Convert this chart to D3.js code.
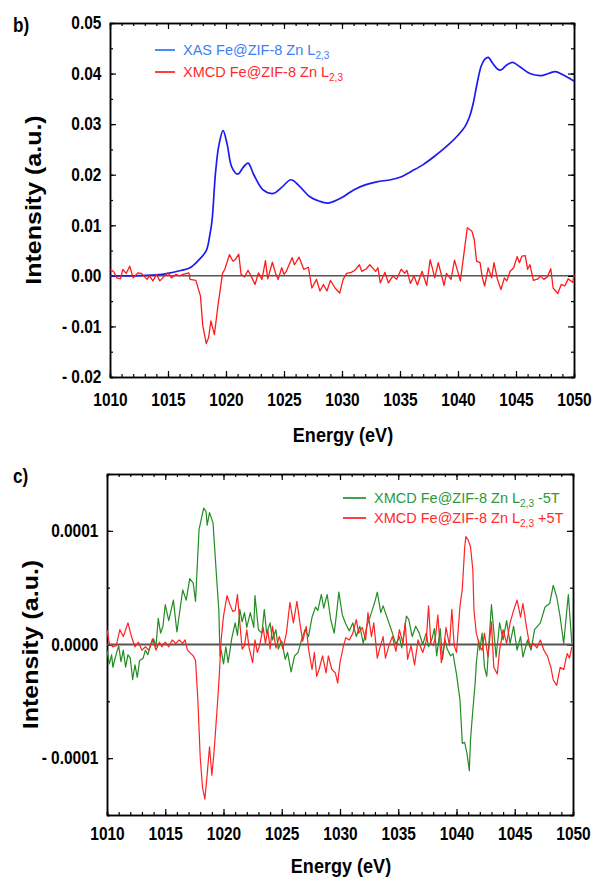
<!DOCTYPE html>
<html>
<head>
<meta charset="utf-8">
<style>
  body { margin: 0; background: #fff; }
  text { font-family: "Liberation Sans", Arial, sans-serif; }
</style>
</head>
<body>
<script src="https://cdn.jsdelivr.net/npm/d3@7"></script>
<script>
// ---- data: [energy eV, intensity] ----
const xasB = [[1010,0],[1012,0],[1014,0.0002],[1015,0.0005],[1016,0.001],[1016.9,0.0016],[1017.6,0.003],
  [1018.3,0.005],[1018.6,0.008],[1018.8,0.011],[1019.1,0.0205],[1019.4,0.026],[1019.75,0.0287],[1020.1,0.026],
  [1020.5,0.0215],[1021.0,0.0201],[1021.5,0.0215],[1021.9,0.0223],[1022.4,0.020],[1023.2,0.017],[1024.1,0.0163],
  [1024.8,0.0175],[1025.6,0.019],[1026.3,0.0178],[1027.2,0.0157],[1028.0,0.0148],[1028.8,0.0144],[1030.0,0.0155],
  [1031.0,0.017],[1032.0,0.018],[1033.0,0.0186],[1034.2,0.019],[1035.0,0.0195],[1036.0,0.0207],[1037.0,0.022],
  [1038.0,0.0237],[1039.3,0.0262],[1040.0,0.0278],[1040.6,0.0295],[1041.0,0.0315],[1041.3,0.034],[1041.6,0.0375],
  [1042.0,0.0415],[1042.3,0.0428],[1042.6,0.0432],[1043.0,0.042],[1043.4,0.0409],[1043.7,0.0407],[1044.2,0.0417],
  [1044.7,0.0422],[1045.3,0.0414],[1046.2,0.040],[1047.2,0.0396],[1047.9,0.0401],[1048.4,0.0404],[1049.0,0.0398],
  [1050.0,0.0385]];

const xmcdB = [[1010,0.00125],[1010.3,0.0009],[1010.6,-0.0004],[1010.9,-0.0006],[1011.1,0.00125],[1011.4,0.0005],
  [1011.7,0.0019],[1012.0,-0.0004],[1012.4,0.0006],[1012.7,0.0005],[1013.2,-0.0007],[1013.4,0],[1013.7,-0.001],
  [1014.0,0.0003],[1014.3,-0.001],[1014.7,0],[1015.0,0.0006],[1015.3,-0.0004],[1015.7,0.0003],[1016.0,0],
  [1016.3,0.0003],[1016.8,0.0006],[1016.9,-0.0007],[1017.4,-0.0009],[1017.8,-0.004],[1018.0,-0.0099],
  [1018.3,-0.0134],[1018.5,-0.0122],[1018.7,-0.0089],[1019.0,-0.0116],[1019.3,-0.006],[1019.7,0.0005],
  [1019.9,0.0013],[1020.3,0.0042],[1020.6,0.0029],[1020.8,0.0032],[1021.1,0.0043],[1021.3,0.0003],[1021.6,-0.0002],
  [1021.9,0.0011],[1022.2,-0.0002],[1022.5,-0.0017],[1022.8,0.0006],[1023.1,-0.0007],[1023.4,0.003],[1023.6,-0.0006],
  [1024.0,0.0027],[1024.3,0.0003],[1024.5,-0.0007],[1024.8,0.0016],[1025.0,0.0003],[1025.2,0.0009],[1025.7,0.0036],
  [1025.9,0.0022],[1026.3,0.0037],[1026.7,0.0013],[1027.1,0.0017],[1027.4,-0.0024],[1027.8,-0.0007],[1028.1,-0.003],
  [1028.4,-0.0017],[1028.7,-0.003],[1029.0,-0.0009],[1029.4,-0.0024],[1029.8,-0.0034],[1030.1,-0.0007],
  [1030.4,0.0005],[1030.8,0.0007],[1031.1,0.0011],[1031.5,0.0022],[1031.7,0.0009],[1032.1,0.0014],[1032.4,0.0022],
  [1032.9,0.0009],[1033.1,0.0016],[1033.3,-0.0014],[1033.7,0.0007],[1034.0,-0.0014],[1034.4,0],[1034.7,-0.0007],
  [1035.1,0.0013],[1035.4,0.0005],[1035.6,0.0011],[1035.9,-0.0015],[1036.2,0],[1036.5,-0.0018],[1036.9,0.0009],
  [1037.3,-0.0019],[1037.6,0.0032],[1038.0,-0.0004],[1038.3,0.0026],[1038.8,-0.0019],[1039.0,0.0005],
  [1039.4,-0.0007],[1039.7,0.0031],[1040.2,-0.001],[1040.5,0.0042],[1040.8,0.0095],[1041.2,0.0088],[1041.4,0.0072],
  [1041.6,0.0029],[1041.9,0.0026],[1042.1,-0.0004],[1042.3,-0.002],[1042.6,0.0016],[1042.9,-0.0004],[1043.1,0.0026],
  [1043.4,-0.0007],[1043.7,-0.0027],[1044.0,-0.0004],[1044.2,-0.001],[1044.5,0.0009],[1044.8,0.0016],[1045.1,0.0038],
  [1045.3,0.0026],[1045.5,0.0039],[1045.8,0.004],[1046.0,0.0013],[1046.2,0.0022],[1046.5,-0.0009],[1046.9,-0.0006],
  [1047.1,0],[1047.4,-0.0007],[1047.7,-0.0002],[1048.0,0.0014],[1048.2,-0.0024],[1048.6,-0.0035],[1048.9,-0.0017],
  [1049.2,-0.002],[1049.5,-0.0006],[1049.9,-0.0013],[1050.0,0.0003]];

// panel c values in units of 1e-4
const xmcdMinus5T = [[1010.0,-0.05],[1010.2,-0.17],[1010.4,-0.09],[1010.5,-0.2],[1010.8,-0.08],[1011.0,-0.01],
  [1011.2,-0.15],[1011.4,-0.05],[1011.6,-0.2],[1011.8,-0.09],[1012.0,-0.12],[1012.2,-0.31],[1012.4,-0.18],
  [1012.6,-0.29],[1012.8,-0.14],[1013.1,-0.12],[1013.3,-0.05],[1013.5,-0.09],[1013.7,-0.02],[1014.0,0.05],
  [1014.2,-0.02],[1014.4,0.23],[1014.6,0.1],[1014.8,0.16],[1015.0,0.35],[1015.3,0.21],[1015.7,0.39],[1016.0,0.11],
  [1016.5,0.48],[1016.8,0.39],[1017.1,0.58],[1017.4,0.54],[1017.6,0.38],[1017.9,1.01],[1018.3,1.2],[1018.5,1.17],
  [1018.6,1.05],[1018.8,1.16],[1019.1,1.07],[1019.4,0.6],[1019.6,0.3],[1019.7,-0.1],[1019.8,-0.05],[1020.0,-0.17],
  [1020.2,-0.02],[1020.4,-0.16],[1020.7,0.05],[1021.0,0.19],[1021.2,0.08],[1021.4,0.31],[1021.6,0.2],[1021.8,0.28],
  [1022.0,0.15],[1022.3,0.28],[1022.6,0.15],[1022.7,0.43],[1023.0,0.13],[1023.3,0.1],[1023.5,0.31],[1023.7,0.1],
  [1024.0,0.19],[1024.2,0.04],[1024.5,0.13],[1024.7,-0.04],[1025.0,0.03],[1025.3,-0.13],[1025.5,-0.07],
  [1025.8,-0.24],[1026.1,-0.1],[1026.4,-0.07],[1026.7,0.04],[1027.0,0.13],[1027.3,0.07],[1027.6,0.24],[1027.9,0.33],
  [1028.1,0.3],[1028.4,0.44],[1028.6,0.32],[1028.9,0.44],[1029.2,0.22],[1029.5,0.1],[1029.7,0.27],[1029.9,0.46],
  [1030.2,0.26],[1030.5,0.18],[1030.8,0.12],[1031.1,0.19],[1031.4,0.07],[1031.7,0.16],[1032.0,0.01],[1032.3,0.16],
  [1032.7,0.28],[1033.0,0.38],[1033.2,0.46],[1033.5,0.28],[1033.7,0.34],[1034.0,0.25],[1034.3,0.16],[1034.5,0.1],
  [1034.8,0.0],[1035.1,0.07],[1035.3,-0.03],[1035.4,0.03],[1035.7,0.25],[1035.9,0.22],[1036.2,0.07],[1036.5,0.16],
  [1036.8,0.1],[1037.1,0.0],[1037.4,0.1],[1037.6,-0.02],[1037.9,0.05],[1038.1,0.14],[1038.3,-0.1],[1038.6,0.14],
  [1038.8,-0.13],[1039.0,0.05],[1039.2,-0.04],[1039.5,-0.1],[1039.7,-0.08],[1040.0,-0.26],[1040.3,-0.49],
  [1040.5,-0.87],[1040.7,-0.86],[1040.9,-0.96],[1041.1,-1.11],[1041.2,-0.84],[1041.4,-0.58],[1041.6,-0.34],
  [1041.7,-0.17],[1041.9,0.04],[1042.0,-0.05],[1042.2,0.1],[1042.4,-0.2],[1042.6,-0.28],[1042.8,0.04],[1043.0,0.35],
  [1043.2,0.12],[1043.4,-0.11],[1043.7,0.19],[1044.0,0.04],[1044.3,0.21],[1044.6,0.01],[1044.9,0.16],[1045.2,-0.05],
  [1045.5,0.07],[1045.7,-0.11],[1046.1,0.04],[1046.4,-0.05],[1046.7,0.13],[1047.2,0.19],[1047.6,0.33],[1048.0,0.36],
  [1048.3,0.52],[1048.6,0.42],[1048.9,0.24],[1049.2,0.01],[1049.6,0.44],[1049.9,0.01]];

const xmcdPlus5T = [[1010.0,0.13],[1010.2,0.01],[1010.5,-0.02],[1010.8,-0.01],[1011.1,0.13],[1011.4,0.07],
  [1011.8,0.19],[1012.1,0.07],[1012.4,-0.02],[1012.7,0.02],[1013.0,-0.05],[1013.3,-0.02],[1013.6,-0.05],
  [1013.9,0.05],[1014.2,-0.05],[1014.5,0.02],[1014.7,-0.02],[1015.0,0.02],[1015.3,-0.02],[1015.6,0.04],
  [1015.9,0.01],[1016.2,0.04],[1016.5,0.01],[1016.7,0.04],[1016.9,-0.05],[1017.2,-0.08],[1017.4,-0.1],
  [1017.6,-0.14],[1017.8,-0.49],[1018.0,-0.99],[1018.2,-1.26],[1018.4,-1.36],[1018.6,-1.14],[1018.8,-0.9],
  [1019.0,-1.15],[1019.2,-0.93],[1019.4,-0.64],[1019.6,-0.34],[1019.8,0.04],[1020.0,0.25],[1020.3,0.43],
  [1020.6,0.34],[1020.8,0.29],[1021.0,0.3],[1021.2,0.44],[1021.4,0.19],[1021.6,-0.04],[1021.8,-0.01],[1022.0,0.13],
  [1022.2,-0.03],[1022.5,-0.16],[1022.7,0.04],[1022.9,-0.07],[1023.1,-0.01],[1023.4,0.15],[1023.6,0.01],
  [1023.8,0.13],[1024.0,-0.04],[1024.2,0.16],[1024.5,-0.03],[1024.8,0.07],[1025.1,-0.04],[1025.4,0.1],[1025.7,0.37],
  [1026.0,0.19],[1026.3,0.38],[1026.6,0.16],[1026.8,0.03],[1027.1,0.16],[1027.3,-0.04],[1027.6,-0.22],[1027.8,-0.07],
  [1028.0,-0.28],[1028.2,-0.22],[1028.5,-0.1],[1028.8,-0.25],[1029.0,-0.1],[1029.3,-0.22],[1029.6,-0.25],
  [1029.8,-0.34],[1030.0,-0.16],[1030.3,-0.01],[1030.5,0.06],[1030.8,0.04],[1031.1,0.1],[1031.4,0.22],[1031.6,0.1],
  [1031.9,0.15],[1032.2,0.04],[1032.4,0.28],[1032.7,0.07],[1032.9,0.19],[1033.2,-0.12],[1033.4,-0.04],[1033.7,0.07],
  [1033.9,-0.12],[1034.2,-0.01],[1034.5,0.07],[1034.8,-0.06],[1035.1,0.13],[1035.4,0.01],[1035.6,0.19],
  [1035.8,-0.13],[1036.1,-0.01],[1036.4,-0.18],[1036.7,0.04],[1037.1,-0.07],[1037.4,0.03],[1037.6,0.34],[1037.8,0.01],
  [1038.0,-0.01],[1038.2,0.07],[1038.4,0.26],[1038.7,-0.16],[1038.9,-0.04],[1039.1,0.15],[1039.4,-0.01],[1039.6,0.31],
  [1039.8,-0.01],[1040.0,-0.07],[1040.3,0.34],[1040.5,0.49],[1040.7,0.85],[1040.8,0.95],[1041.0,0.92],[1041.2,0.86],
  [1041.4,0.66],[1041.5,0.3],[1041.7,0.1],[1042.0,-0.02],[1042.2,-0.05],[1042.4,0.1],[1042.7,-0.11],[1043.0,0.2],
  [1043.2,-0.2],[1043.5,-0.26],[1043.7,-0.05],[1044.0,0.13],[1044.3,0.01],[1044.6,0.19],[1044.9,0.3],[1045.2,0.39],
  [1045.5,0.24],[1045.7,0.36],[1046.0,0.16],[1046.3,-0.02],[1046.6,0.01],[1046.9,-0.03],[1047.2,0.04],[1047.5,-0.05],
  [1047.8,-0.1],[1048.1,-0.2],[1048.3,-0.31],[1048.6,-0.36],[1048.9,-0.2],[1049.2,-0.22],[1049.5,-0.08],
  [1049.7,-0.12],[1049.9,-0.02]];

const energyTicks = [1010, 1015, 1020, 1025, 1030, 1035, 1040, 1045, 1050];
const yTicksB = [-0.02, -0.01, 0, 0.01, 0.02, 0.03, 0.04, 0.05];
const yLabelsB = ["- 0.02", "- 0.01", "0.00", "0.01", "0.02", "0.03", "0.04", "0.05"];
const yTicksC = [-1, 0, 1];
const yLabelsC = ["- 0.0001", "0.0000", "0.0001"];

const sq = 0.86; // text in the picture is a bit narrow

let svg = d3.select("body").append("svg").attr("width", 595).attr("height", 879);

function drawPanel(p) {
    let x = p.x, y = p.y;
    let [x0, x1] = x.range(), [y1, y0] = y.range();
    let g = svg.append("g");

    let minorX = d3.range(1010, 1050.01, 1);
    let minorY = d3.range(y.domain()[0], y.domain()[1] + 1e-9, p.minorStep);

    // minor ticks on all four sides
    g.append("g").attr("transform", `translate(0,${y1})`)
        .call(d3.axisBottom(x).tickValues(minorX).tickSize(-3).tickFormat(""));
    g.append("g").attr("transform", `translate(0,${y0})`)
        .call(d3.axisTop(x).tickValues(minorX).tickSize(-3).tickFormat(""));
    g.append("g").attr("transform", `translate(${x0},0)`)
        .call(d3.axisLeft(y).tickValues(minorY).tickSize(-3).tickFormat(""));
    g.append("g").attr("transform", `translate(${x1},0)`)
        .call(d3.axisRight(y).tickValues(minorY).tickSize(-3).tickFormat(""));

    // major ticks
    g.append("g").attr("transform", `translate(0,${y1})`)
        .call(d3.axisBottom(x).tickValues(energyTicks).tickSize(-6).tickSizeOuter(0).tickPadding(p.xPad).tickFormat(d3.format("d")));
    g.append("g").attr("transform", `translate(0,${y0})`)
        .call(d3.axisTop(x).tickValues(energyTicks).tickSize(-6).tickSizeOuter(0).tickFormat(""));
    g.append("g").attr("transform", `translate(${x0},0)`)
        .call(d3.axisLeft(y).tickValues(p.yTicks).tickSize(-6).tickSizeOuter(0).tickPadding(10)
            .tickFormat((d, i) => p.yLabels[i]));
    g.append("g").attr("transform", `translate(${x1},0)`)
        .call(d3.axisRight(y).tickValues(p.yTicks).tickSize(-6).tickSizeOuter(0).tickFormat(""));

    g.selectAll(".domain").attr("stroke", "#000").attr("stroke-width", 1.5);
    g.selectAll(".tick line").attr("stroke", "#000").attr("stroke-width", 1.2);
    g.selectAll(".tick text").attr("font-family", "Liberation Sans, Arial, sans-serif")
        .attr("font-weight", "bold").attr("font-size", 18).attr("fill", "#000")
        .attr("transform", `scale(${sq},1)`);

    // zero line
    g.append("line").attr("x1", x0).attr("x2", x1).attr("y1", y(0)).attr("y2", y(0))
        .attr("stroke", p.zeroColor).attr("stroke-width", p.zeroWidth);

    // curves
    p.series.forEach(s => {
        g.append("path").datum(s.data)
            .attr("fill", "none").attr("stroke", s.color).attr("stroke-width", s.width)
            .attr("stroke-linejoin", "round")
            .attr("d", d3.line().x(d => x(d[0])).y(d => y(d[1])).curve(s.curve || d3.curveLinear));
    });

    // legend
    p.series.forEach((s, i) => {
        let ly = p.legY + i * p.legGap;
        g.append("line").attr("x1", p.legX).attr("x2", p.legX + p.legLen).attr("y1", ly).attr("y2", ly)
            .attr("stroke", s.legColor).attr("stroke-width", 1.8);
        let t = g.append("text").attr("x", p.legX + p.legLen + 8).attr("y", ly + 5)
            .attr("font-family", "Lato, Open Sans, sans-serif").attr("font-size", 14.5).attr("fill", s.legColor);
        t.append("tspan").text(s.name);
        t.append("tspan").attr("font-size", 10).attr("dy", 4).text("2,3");
        if (s.suffix) t.append("tspan").attr("dy", -4).text(" " + s.suffix);
    });

    // axis titles
    g.append("text").attr("transform", `translate(${(x0 + x1) / 2 + 1},${p.xTitleY}) scale(${sq},1)`)
        .attr("text-anchor", "middle").attr("font-weight", "bold").attr("font-size", 21).text("Energy (eV)");
    g.append("text").attr("transform", `translate(${p.yTitleX},${(y0 + y1) / 2}) scale(${sq},1) rotate(-90)`)
        .attr("text-anchor", "middle").attr("font-weight", "bold").attr("font-size", 25).text("Intensity (a.u.)");
    g.append("text").attr("transform", `translate(13,${y0 + 9}) scale(${sq},1)`)
        .attr("font-weight", "bold").attr("font-size", 20).text(p.tag);
}

drawPanel({
    x: d3.scaleLinear().domain([1010, 1050]).range([110, 574]),
    y: d3.scaleLinear().domain([-0.02, 0.05]).range([377, 23]),
    minorStep: 0.005, yTicks: yTicksB, yLabels: yLabelsB, xPad: 16,
    zeroColor: "#000", zeroWidth: 1,
    legX: 155, legY: 50, legGap: 22, legLen: 20,
    xTitleY: 442, yTitleX: 41, tag: "b)",
    series: [
        {data: xasB, color: "#1c1cf0", legColor: "#3b7ff0", width: 1.7, curve: d3.curveCatmullRom,
         name: "XAS Fe@ZIF-8 Zn L"},
        {data: xmcdB, color: "#ff1a1a", legColor: "#ff2a2a", width: 1.3, name: "XMCD Fe@ZIF-8 Zn L"}
    ]
});

drawPanel({
    x: d3.scaleLinear().domain([1010, 1050]).range([107, 573]),
    y: d3.scaleLinear().domain([-1.5, 1.5]).range([815, 474]),
    minorStep: 0.5, yTicks: yTicksC, yLabels: yLabelsC, xPad: 12,
    zeroColor: "#555", zeroWidth: 2,
    legX: 343, legY: 498, legGap: 20, legLen: 23,
    xTitleY: 873, yTitleX: 38, tag: "c)",
    series: [
        {data: xmcdMinus5T, color: "#238c23", legColor: "#2a9a3c", width: 1.2,
         name: "XMCD Fe@ZIF-8 Zn L", suffix: "-5T"},
        {data: xmcdPlus5T, color: "#ff2222", legColor: "#ff2a2a", width: 1.2,
         name: "XMCD Fe@ZIF-8 Zn L", suffix: "+5T"}
    ]
});
</script>
</body>
</html>
